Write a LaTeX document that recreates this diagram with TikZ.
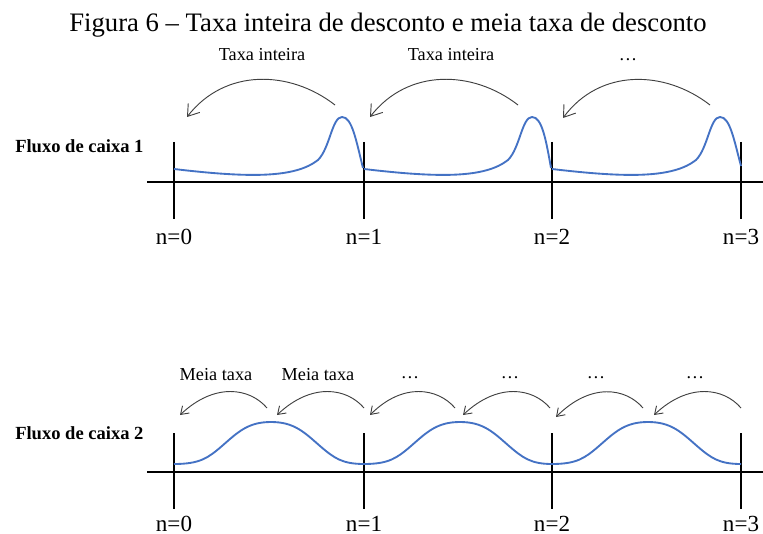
\documentclass[tikz,border=0pt]{standalone}
\usepackage{fontspec}
\setmainfont{Liberation Serif}
\usepackage{xcolor}
\usepackage{tikz}
\usetikzlibrary{arrows.meta}

\definecolor{flowblue}{RGB}{68,114,196}

\begin{document}
\begin{tikzpicture}[
    x=0.75pt,y=-0.75pt,
    axis/.style={draw=black, line width=0.8pt},
    tick/.style={draw=black, line width=1.5pt},
    flow/.style={draw=flowblue, line width=1.4pt},
    bigarc/.style={-{Straight Barb[length=8pt,width=11pt]}, draw=black!75, line width=0.7pt},
    smallarc/.style={-{Straight Barb[length=5.5pt,width=7.5pt]}, draw=black!75, line width=0.7pt},
    title/.style={anchor=base, inner sep=0pt, font=\fontsize{20}{24}\selectfont},
    lab/.style={anchor=base, inner sep=0pt, font=\fontsize{13.7}{16}\selectfont},
    flux/.style={anchor=base west, inner sep=0pt, font=\fontsize{13.9}{16}\selectfont\bfseries},
    per/.style={anchor=base, inner sep=0pt, font=\fontsize{17.3}{20}\selectfont}
  ]
    \useasboundingbox (0,0) rectangle (763,534);

    \node[title] (ttl) at (388,32) {Figura 6 -- Taxa inteira de desconto e meia taxa de desconto};

    % Fluxo de caixa 1
    \node[flux] (f1) at (15,153) {Fluxo de caixa 1};
    \draw[axis] (147,182) -- (763,182);
    \draw[tick] (174,142) -- (174,219);
    \draw[tick] (364,142) -- (364,219);
    \draw[tick] (552,142) -- (552,219);
    \draw[tick] (741,142) -- (741,219);
    \node[per] (u0) at (174,245) {n=0};
    \node[per] (u1) at (364,245) {n=1};
    \node[per] (u2) at (552,245) {n=2};
    \node[per] (u3) at (741,245) {n=3};

    \draw[flow] (174,169) .. controls (250,178) and (295,178) .. (318,160) .. controls (330,148) and (332,117) .. (342,117) .. controls (352,117) and (356,140) .. (363,168);
    \draw[flow] (364,169) .. controls (440,178) and (485,178) .. (508,160) .. controls (520,148) and (522,117) .. (532,117) .. controls (542,117) and (546,140) .. (551,168);
    \draw[flow] (552,169) .. controls (628,178) and (673,178) .. (696,160) .. controls (708,148) and (710,117) .. (720,117) .. controls (730,117) and (734,140) .. (741,166);

    \coordinate (a1s) at (335,105);
    \coordinate (a1e) at (187,117);
    \coordinate (a2s) at (518,105);
    \coordinate (a2e) at (370,117);
    \coordinate (a3s) at (710,105);
    \coordinate (a3e) at (563,118);
    \draw[bigarc] (a1s) .. controls (290,70) and (225,68) .. (a1e);
    \draw[bigarc] (a2s) .. controls (473,70) and (408,68) .. (a2e);
    \draw[bigarc] (a3s) .. controls (665,70) and (600,68) .. (a3e);
    \node[lab] (l1) at (262,61) {Taxa inteira};
    \node[lab] (l2) at (451,61) {Taxa inteira};
    \node[lab] (l3) at (628,61) {\ldots};

    % Fluxo de caixa 2
    \node[flux] (f2) at (15,439) {Fluxo de caixa 2};
    \draw[axis] (147,472) -- (763,472);
    \draw[tick] (174,433) -- (174,509);
    \draw[tick] (364,433) -- (364,509);
    \draw[tick] (552,433) -- (552,509);
    \draw[tick] (741,433) -- (741,509);
    \node[per] (v0) at (174,531) {n=0};
    \node[per] (v1) at (364,531) {n=1};
    \node[per] (v2) at (552,531) {n=2};
    \node[per] (v3) at (741,531) {n=3};

    \draw[flow] (174,464) .. controls (200,464) and (208,458) .. (222,446) .. controls (238,432) and (248,422) .. (271,422) .. controls (294,422) and (304,432) .. (320,446) .. controls (334,458) and (342,464) .. (364,464);
    \draw[flow] (364,464) .. controls (389,464) and (397,458) .. (411,446) .. controls (427,432) and (437,422) .. (460,422) .. controls (483,422) and (493,432) .. (509,446) .. controls (523,458) and (531,464) .. (552,464);
    \draw[flow] (552,464) .. controls (577,464) and (585,458) .. (599,446) .. controls (615,432) and (625,422) .. (648,422) .. controls (671,422) and (681,432) .. (697,446) .. controls (711,458) and (719,464) .. (741,464);

    \coordinate (b1s) at (267,408);
    \coordinate (b1e) at (180,415);
    \coordinate (b2s) at (364,408);
    \coordinate (b2e) at (277,415);
    \coordinate (b3s) at (455,408);
    \coordinate (b3e) at (370,415);
    \coordinate (b4s) at (550,408);
    \coordinate (b4e) at (463,415);
    \coordinate (b5s) at (643,408);
    \coordinate (b5e) at (556,417);
    \coordinate (b6s) at (741,408);
    \coordinate (b6e) at (654,415);
    \draw[smallarc] (b1s) .. controls (250,388) and (215,382) .. (b1e);
    \draw[smallarc] (b2s) .. controls (347,388) and (312,382) .. (b2e);
    \draw[smallarc] (b3s) .. controls (438,388) and (403,382) .. (b3e);
    \draw[smallarc] (b4s) .. controls (533,388) and (498,382) .. (b4e);
    \draw[smallarc] (b5s) .. controls (626,388) and (591,382) .. (b5e);
    \draw[smallarc] (b6s) .. controls (724,388) and (689,382) .. (b6e);
    \node[lab] (m1) at (216,380) {Meia taxa};
    \node[lab] (m2) at (318,380) {Meia taxa};
    \node[lab] (m3) at (410,378) {\ldots};
    \node[lab] (m4) at (510,378) {\ldots};
    \node[lab] (m5) at (596,378) {\ldots};
    \node[lab] (m6) at (695,378) {\ldots};
\end{tikzpicture}
\end{document}
